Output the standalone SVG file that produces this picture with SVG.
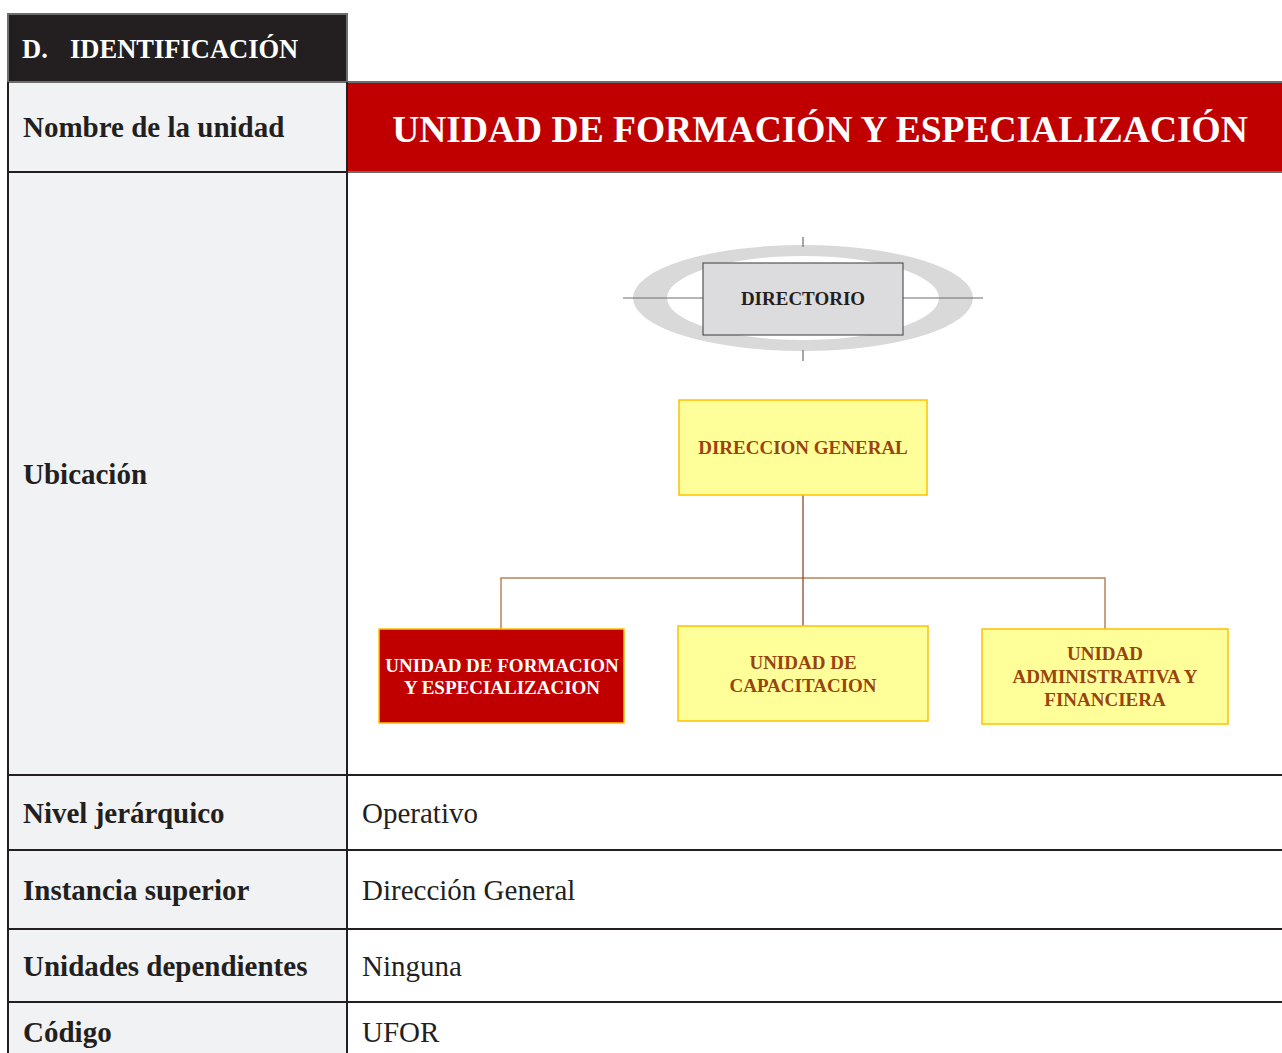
<svg xmlns="http://www.w3.org/2000/svg" width="1282" height="1053" viewBox="0 0 1282 1053">
<style>
.lab{font-family:"Liberation Serif",serif;font-weight:bold;font-size:29px;fill:#231f20}
.val{font-family:"Liberation Serif",serif;font-size:29px;fill:#231f20}
.nt{font-family:"Liberation Serif",serif;font-weight:bold;font-size:19px;text-anchor:middle}
.yb{fill:#ffff99;stroke:#ffc000;stroke-width:1.5}
.yt{fill:#99440f}
.grid{stroke:#231f20;stroke-width:2;fill:none}
.con{stroke:#b8845c;stroke-width:1.5;fill:none}
</style>
<rect width="1282" height="1053" fill="#ffffff"/>
<g id="table">
<rect x="8" y="82" width="339" height="971" fill="#f1f2f4"/>
<rect x="8" y="14" width="339" height="68" fill="#231f20" stroke="#6d6d6d" stroke-width="2"/>
<text x="22" y="58" font-family="Liberation Serif,serif" font-weight="bold" font-size="26.5" fill="#ffffff">D.</text>
<text x="70" y="58" font-family="Liberation Serif,serif" font-weight="bold" font-size="26.5" fill="#ffffff">IDENTIFICACIÓN</text>
<rect x="347" y="82" width="936" height="90" fill="#c00000" stroke="#6d6d6d" stroke-width="2"/>
<text x="820" y="142" text-anchor="middle" font-family="Liberation Serif,serif" font-weight="bold" font-size="37.5" fill="#ffffff">UNIDAD DE FORMACIÓN Y ESPECIALIZACIÓN</text>
<path class="grid" d="M8 82V1053M347 82V1053M8 172H347M8 775H1282M8 850H1282M8 929H1282M8 1002H1282"/>
<text class="lab" x="23" y="137">Nombre de la unidad</text>
<text class="lab" x="23" y="484">Ubicación</text>
<text class="lab" x="23" y="823">Nivel jerárquico</text>
<text class="lab" x="23" y="900">Instancia superior</text>
<text class="lab" x="23" y="976">Unidades dependientes</text>
<text class="lab" x="23" y="1042">Código</text>
<text class="val" x="362" y="823">Operativo</text>
<text class="val" x="362" y="900">Dirección General</text>
<text class="val" x="362" y="976">Ninguna</text>
<text class="val" x="362" y="1042">UFOR</text>
</g>
<g id="connectors">
<path d="M633 298a170 53 0 1 0 340 0a170 53 0 1 0 -340 0ZM667 298a136 42 0 1 0 272 0a136 42 0 1 0 -272 0Z" fill="#d9d9d9" fill-rule="evenodd"/>
<path d="M623 298H983M803 237V247M803 350V361" stroke="#6d6d6d" stroke-width="1.2" fill="none"/>
<path class="con" d="M501 629V578H1105V629"/>
<path d="M803 495V626" stroke="#8b3a0f" stroke-width="1.2" fill="none"/>
</g>
<g id="directorio">
<rect x="703" y="263" width="200" height="72" fill="#dcdcde" stroke="#555555" stroke-width="1.2"/>
<text class="nt" x="803" y="305" fill="#231f20">DIRECTORIO</text>
</g>
<g id="direccion-general">
<rect class="yb" x="679" y="400" width="248" height="95"/>
<text class="nt yt" x="803" y="454">DIRECCION GENERAL</text>
</g>
<g id="ufor">
<rect x="379" y="629" width="245" height="94" fill="#c00000" stroke="#ffc000" stroke-width="1.5"/>
<text class="nt" x="502" y="672" fill="#ffffff">UNIDAD DE FORMACION</text>
<text class="nt" x="502" y="694" fill="#ffffff">Y ESPECIALIZACION</text>
</g>
<g id="capacitacion">
<rect class="yb" x="678" y="626" width="250" height="95"/>
<text class="nt yt" x="803" y="669">UNIDAD DE</text>
<text class="nt yt" x="803" y="692">CAPACITACION</text>
</g>
<g id="administrativa">
<rect class="yb" x="982" y="629" width="246" height="95"/>
<text class="nt yt" x="1105" y="660">UNIDAD</text>
<text class="nt yt" x="1105" y="683">ADMINISTRATIVA Y</text>
<text class="nt yt" x="1105" y="706">FINANCIERA</text>
</g>
</svg>
